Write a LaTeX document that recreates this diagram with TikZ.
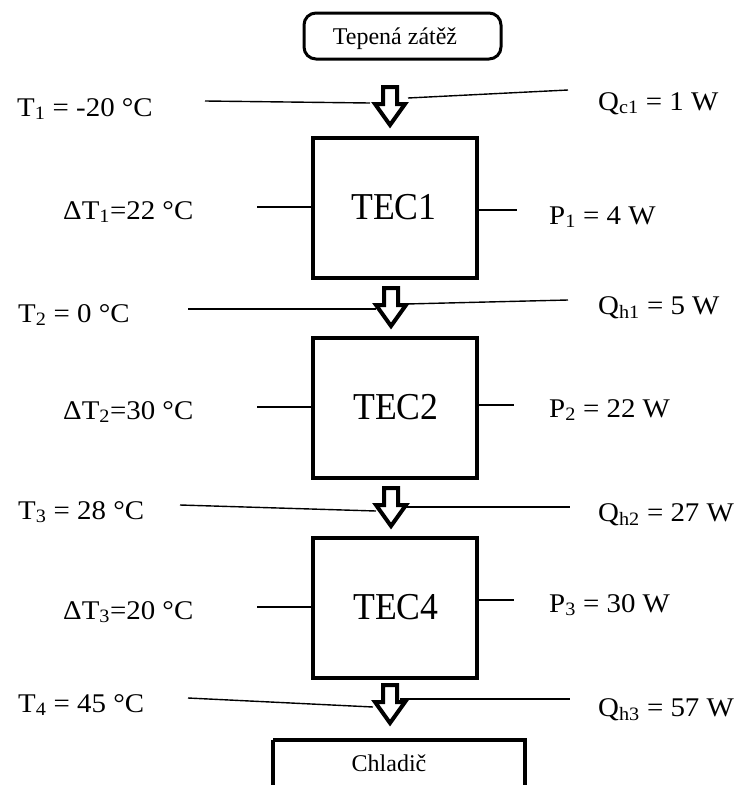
\documentclass[tikz,border=0pt]{standalone}
\usepackage{fontspec}
\setmainfont{Liberation Serif}
\newcommand{\lbl}[1]{\scalebox{1.07}[1]{#1}}
\newcommand{\sbs}[1]{\textsubscript{#1}}
\begin{document}
\begin{tikzpicture}[x=1pt,y=-1pt,
  thinline/.style={line width=1.4pt},
  boxline/.style={draw, line width=4pt},
  lab/.style={anchor=base west, inner sep=0pt, font=\fontsize{27}{30}\selectfont},
  tectext/.style={inner sep=0pt, font=\fontsize{38}{42}\selectfont},
  blockarr/.pic={\draw[line width=4pt, line join=miter, miter limit=10]
     (-7,2) -- (-7,19) -- (-15,19) -- (0,40) -- (15,19) -- (7,19) -- (7,2) -- cycle;}
]
\useasboundingbox (0,0) rectangle (745,785);
\fill[white] (0,0) rectangle (745,785);

% top load box
\draw[line width=3pt, rounded corners=12pt] (304,13) rectangle (501,59);
\node[anchor=base, inner sep=0pt, font=\fontsize{24}{28}\selectfont] (load) at (395,44) {Tepená zátěž};

% TEC boxes
\draw[boxline] (313,138) rectangle (477,278);
\node[tectext, anchor=base] (tec1) at (394,219) {\scalebox{0.94}[1]{TEC1}};
\draw[boxline] (313,338) rectangle (477,478);
\node[tectext, anchor=base] (tec2) at (396,419) {\scalebox{0.94}[1]{TEC2}};
\draw[boxline] (313,538) rectangle (477,678);
\node[tectext, anchor=base] (tec4) at (396,619) {\scalebox{0.94}[1]{TEC4}};

% cooler box
\draw[boxline] (273,740) -- (273,800) (273,740) -- (525,740) -- (525,800);
\node[anchor=base, inner sep=0pt, font=\fontsize{24}{28}\selectfont] (cool) at (389,771) {Chladič};

% arrows
\pic at (390,85) {blockarr};
\pic at (391,286) {blockarr};
\pic at (391,486) {blockarr};
\pic at (390,683) {blockarr};

% labels
\node[lab] (t1) at (17,116) {\lbl{T\sbs{1} = -20 °C}};
\node[lab] (qc1) at (598,110) {\lbl{Q\sbs{c1} = 1 W}};
\node[lab] (dt1) at (63,219) {\lbl{ΔT\sbs{1}=22 °C}};
\node[lab] (p1) at (549,224) {\lbl{P\sbs{1} = 4 W}};

\node[lab] (t2) at (18,322) {\lbl{T\sbs{2} = 0 °C}};
\node[lab] (qh1) at (598,314) {\lbl{Q\sbs{h1} = 5 W}};
\node[lab] (dt2) at (63,419) {\lbl{ΔT\sbs{2}=30 °C}};
\node[lab] (p2) at (549,417) {\lbl{P\sbs{2} = 22 W}};

\node[lab] (t3) at (18,519) {\lbl{T\sbs{3} = 28 °C}};
\node[lab] (qh2) at (598,521) {\lbl{Q\sbs{h2} = 27 W}};
\node[lab] (dt3) at (63,619) {\lbl{ΔT\sbs{3}=20 °C}};
\node[lab] (p3) at (549,612) {\lbl{P\sbs{3} = 30 W}};

\node[lab] (t4) at (18,712) {\lbl{T\sbs{4} = 45 °C}};
\node[lab] (qh3) at (598,716) {\lbl{Q\sbs{h3} = 57 W}};

% connector lines
\coordinate (a1) at (205,101); \coordinate (a1e) at (370,103);
\coordinate (b1) at (408,98);  \coordinate (b1e) at (568,90);
\coordinate (c1) at (257,207); \coordinate (c1e) at (313,207);
\coordinate (d1) at (477,210); \coordinate (d1e) at (517,210);
\draw[thinline] (a1) -- (a1e);
\draw[thinline] (b1) -- (b1e);
\draw[thinline] (c1) -- (c1e);
\draw[thinline] (d1) -- (d1e);

\coordinate (a2) at (188,309); \coordinate (a2e) at (376,309);
\coordinate (b2) at (406,304); \coordinate (b2e) at (568,300);
\coordinate (c2) at (257,407); \coordinate (c2e) at (313,407);
\coordinate (d2) at (477,405); \coordinate (d2e) at (514,405);
\draw[thinline] (a2) -- (a2e);
\draw[thinline] (b2) -- (b2e);
\draw[thinline] (c2) -- (c2e);
\draw[thinline] (d2) -- (d2e);

\coordinate (a3) at (180,505); \coordinate (a3e) at (376,511);
\coordinate (b3) at (405,507); \coordinate (b3e) at (570,507);
\coordinate (c3) at (257,607); \coordinate (c3e) at (313,607);
\coordinate (d3) at (477,600); \coordinate (d3e) at (514,600);
\draw[thinline] (a3) -- (a3e);
\draw[thinline] (b3) -- (b3e);
\draw[thinline] (c3) -- (c3e);
\draw[thinline] (d3) -- (d3e);

\coordinate (a4) at (188,698); \coordinate (a4e) at (373,707);
\coordinate (b4) at (400,699); \coordinate (b4e) at (570,699);
\draw[thinline] (a4) -- (a4e);
\draw[thinline] (b4) -- (b4e);
\end{tikzpicture}
\end{document}
